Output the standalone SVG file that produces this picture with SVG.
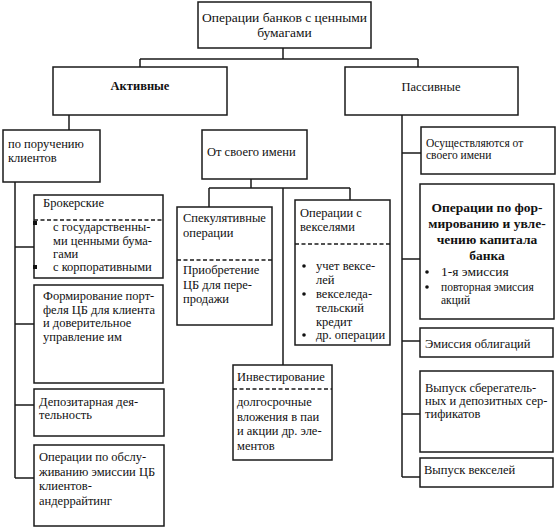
<svg xmlns="http://www.w3.org/2000/svg" width="558" height="530" viewBox="0 0 558 530" font-family="'Liberation Serif', 'Times New Roman', Tinos, 'DejaVu Serif', serif">
<style>
.box{fill:#fff;stroke:#1a1a1a;stroke-width:1.5}
.ln{fill:none;stroke:#1a1a1a;stroke-width:1.5}
.dash{fill:none;stroke:#1a1a1a;stroke-width:1.5;stroke-dasharray:4 2.5}
text{font-family:'Liberation Serif','Times New Roman',Tinos,'DejaVu Serif',serif;font-size:12.5px;fill:#111}
.t13{font-size:13.5px}
.sm{font-size:11.5px}
.b{font-weight:bold}
.c{text-anchor:middle}
.dot{fill:#111}
</style>
<rect width="558" height="530" fill="#fff"/>
<g id="connectors">
<path class="ln" d="M283 48V59M140 59H418M140 59V67M418 59V67"/>
<path class="ln" d="M69 115V130"/>
<path class="ln" d="M15 182V478M15 247H34M15 324H34M15 405H34M15 478H34"/>
<path class="ln" d="M251 179V188M209 188H350M209 188V207M350 188V200M283 188V365"/>
<path class="ln" d="M402 115V477M402 153H421M402 259H420M402 341H420M402 414H420M402 477H420"/>
</g>
<g id="root">
<rect class="box" x="198" y="2" width="173" height="46"/>
<text class="t13 c" x="284.5" y="22">Операции банков с ценными</text>
<text class="t13 c" x="284.5" y="37">бумагами</text>
</g>
<g id="active">
<rect class="box" x="53" y="67" width="174" height="48"/>
<text class="b c" x="140" y="90">Активные</text>
</g>
<g id="passive">
<rect class="box" x="345" y="67" width="173" height="48"/>
<text class="c" x="431" y="91">Пассивные</text>
</g>
<g id="by-order">
<rect class="box" x="3" y="130" width="97" height="52"/>
<text x="8" y="148">по поручению</text>
<text x="8" y="162">клиентов</text>
</g>
<g id="own-name">
<rect class="box" x="202" y="130" width="105" height="49"/>
<text x="207" y="156">От своего имени</text>
</g>
<g id="broker">
<rect class="box" x="34" y="195" width="129" height="83"/>
<text x="43" y="207">Брокерские</text>
<path class="dash" d="M34 220H163"/>
<rect class="dot" x="33" y="221" width="4" height="4"/>
<rect class="dot" x="33" y="265" width="4" height="4"/>
<text x="53" y="231">с государственны-</text>
<text x="53" y="245">ми ценными бума-</text>
<text x="53" y="258">гами</text>
<text x="53" y="271">с корпоративными</text>
</g>
<g id="portfolio">
<rect class="box" x="34" y="285" width="129" height="98"/>
<text x="43" y="300">Формирование порт-</text>
<text x="43" y="314">феля ЦБ для клиента</text>
<text x="43" y="327">и доверительное</text>
<text x="43" y="341">управление им</text>
</g>
<g id="depository">
<rect class="box" x="34" y="389" width="130" height="47"/>
<text x="39" y="406">Депозитарная дея-</text>
<text x="39" y="419">тельность</text>
</g>
<g id="underwriting">
<rect class="box" x="34" y="445" width="130" height="81"/>
<text x="39" y="461">Операции по обслу-</text>
<text x="39" y="476">живанию эмиссии ЦБ</text>
<text x="39" y="490">клиентов-</text>
<text x="39" y="505">андеррайтинг</text>
</g>
<g id="speculative">
<rect class="box" x="177" y="207" width="95" height="118"/>
<text x="183" y="222">Спекулятивные</text>
<text x="183" y="237">операции</text>
<path class="dash" d="M177 260H272"/>
<text x="183" y="274">Приобретение</text>
<text x="183" y="289">ЦБ для пере-</text>
<text x="183" y="303">продажи</text>
</g>
<g id="bills-ops">
<rect class="box" x="295" y="200" width="95" height="145"/>
<text x="300" y="217">Операции с</text>
<text x="300" y="231">векселями</text>
<path class="dash" d="M295 244H390"/>
<circle class="dot" cx="304" cy="266" r="1.8"/>
<circle class="dot" cx="304" cy="294" r="1.8"/>
<circle class="dot" cx="304" cy="335" r="1.8"/>
<text x="316" y="270">учет вексе-</text>
<text x="316" y="284">лей</text>
<text x="316" y="298">векселеда-</text>
<text x="316" y="312">тельский</text>
<text x="316" y="326">кредит</text>
<text x="316" y="339">др. операции</text>
</g>
<g id="investing">
<rect class="box" x="233" y="365" width="99" height="95"/>
<text x="237" y="381">Инвестирование</text>
<path class="dash" d="M233 389H332"/>
<text x="237" y="406">долгосрочные</text>
<text x="237" y="421">вложения в паи</text>
<text x="237" y="435">и акции др. эле-</text>
<text x="237" y="450">ментов</text>
</g>
<g id="own-name-passive">
<rect class="box" x="421" y="127" width="134" height="47"/>
<text class="sm" x="426" y="147">Осуществляются от</text>
<text class="sm" x="426" y="159">своего имени</text>
</g>
<g id="capital">
<rect class="box" x="420" y="184" width="134" height="135"/>
<text class="t13 b c" x="487" y="212">Операции по фор-</text>
<text class="t13 b c" x="487" y="228">мированию и увле-</text>
<text class="t13 b c" x="487" y="244">чению капитала</text>
<text class="t13 b c" x="487" y="260">банка</text>
<circle class="dot" cx="427" cy="272" r="1.8"/>
<circle class="dot" cx="427" cy="287" r="1.8"/>
<text class="t13" x="441" y="276">1-я эмиссия</text>
<text class="sm" x="441" y="291">повторная эмиссия</text>
<text class="sm" x="441" y="304">акций</text>
</g>
<g id="bonds">
<rect class="box" x="420" y="328" width="133" height="29"/>
<text x="425" y="348">Эмиссия облигаций</text>
</g>
<g id="certificates">
<rect class="box" x="420" y="371" width="133" height="81"/>
<text x="425" y="392">Выпуск сберегатель-</text>
<text x="425" y="405">ных и депозитных сер-</text>
<text x="425" y="418">тификатов</text>
</g>
<g id="bills-issue">
<rect class="box" x="420" y="458" width="133" height="29"/>
<text x="424" y="474">Выпуск векселей</text>
</g>
</svg>
